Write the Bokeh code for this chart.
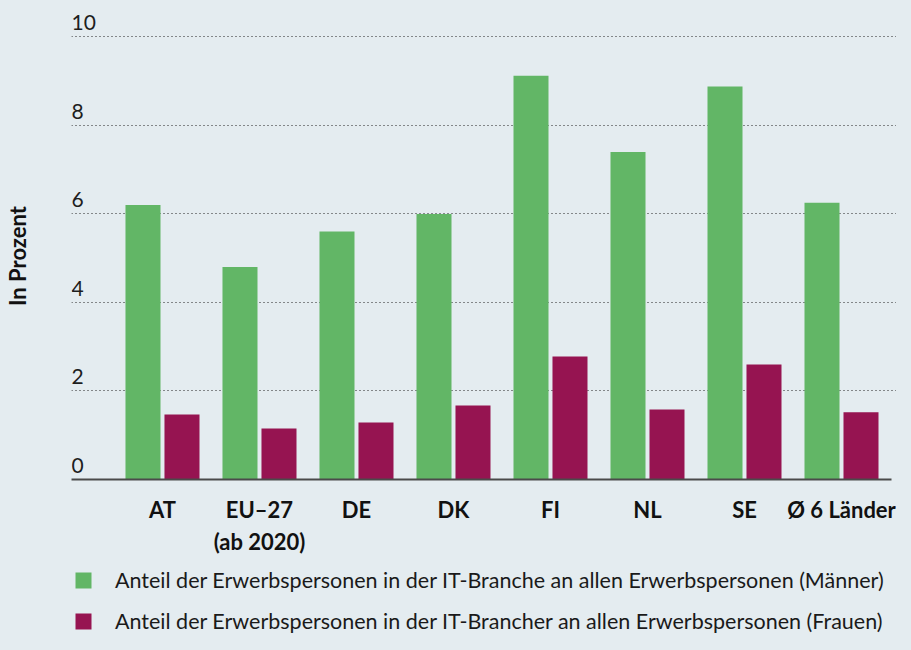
from bokeh.plotting import figure
from bokeh.layouts import column
from bokeh.models import (ColumnDataSource, Range1d, FixedTicker, LinearAxis,
                          Legend, LegendItem, GlobalInlineStyleSheet)
from bokeh.transform import dodge
from bokeh.core.properties import value
from bokeh.embed import file_html
from bokeh.resources import INLINE

# ---- data ----
categories = ["AT", "EU\u201327\n(ab 2020)", "DE", "DK", "FI", "NL", "SE", "\u00d8 6 L\u00e4nder"]
men = [6.2, 4.8, 5.6, 6.0, 9.12, 7.4, 8.88, 6.25]
women = [1.47, 1.15, 1.29, 1.67, 2.78, 1.58, 2.6, 1.52]
y_ticks = [0, 2, 4, 6, 8, 10]
y_tick_labels = ["0", "2", "4", "6", "8", "10"]
label_men = "Anteil der Erwerbspersonen in der IT-Branche an allen Erwerbspersonen (M\u00e4nner)"
label_women = "Anteil der Erwerbspersonen in der IT-Brancher an allen Erwerbspersonen (Frauen)"
y_title = "In Prozent"

BG = "#e4ecf0"
GREEN = "#62b666"
MAGENTA = "#961451"
FONT = "Lato"

idx = list(range(len(categories)))
src = ColumnDataSource(dict(idx=idx, men=men, women=women))

FRAME_H = 479
Y_END = 10.82
PX_PER_UNIT = FRAME_H / Y_END

x_start, x_end = -0.938, 7.567
main = figure(frame_width=825, frame_height=FRAME_H,
              x_range=Range1d(x_start, x_end), y_range=Range1d(0, Y_END),
              output_backend="svg", toolbar_location=None,
              x_axis_location=None, y_axis_location=None,
              min_border_left=70, min_border_right=0, min_border_top=0,
              min_border_bottom=87)
main.background_fill_color = BG
main.border_fill_color = BG
main.outline_line_color = None
main.stylesheets = [GlobalInlineStyleSheet(css="html, body { background-color: %s; }" % BG)]

# grid
main.xgrid.visible = False
main.ygrid.ticker = FixedTicker(ticks=y_ticks[1:])
main.ygrid.grid_line_color = "#222222"
main.ygrid.grid_line_width = 1
main.ygrid.grid_line_dash = "1 3"

# bars
r_men = main.vbar(x=dodge("idx", -0.201, range=main.x_range), top="men", width=0.361,
                  source=src, fill_color=GREEN, line_color=None)
r_women = main.vbar(x=dodge("idx", 0.201, range=main.x_range), top="women", width=0.361,
                    source=src, fill_color=MAGENTA, line_color=None)

# y tick labels sitting above their gridlines
label_y = [t + 7 / PX_PER_UNIT for t in y_ticks]
main.text(x=[x_start] * len(y_ticks), y=label_y, text=y_tick_labels,
          text_font=value(FONT), text_font_size="21px", text_color="#1e1e1e",
          text_align="left", text_baseline="alphabetic", y_offset=-7)

# x axis
xaxis = LinearAxis(ticker=FixedTicker(ticks=idx),
                   major_label_overrides={i: c for i, c in zip(idx, categories)})
xaxis.bounds = (x_start, 7.516)
xaxis.axis_line_color = "#4a4a4a"
xaxis.axis_line_width = 2
xaxis.major_tick_line_color = None
xaxis.minor_tick_line_color = None
xaxis.major_tick_out = 0
xaxis.major_tick_in = 0
xaxis.major_label_standoff = 16
xaxis.major_label_text_font = FONT
xaxis.major_label_text_font_style = "bold"
xaxis.major_label_text_font_size = "22px"
xaxis.major_label_text_color = "#111111"
main.add_layout(xaxis, "below")

# y axis (title only); trailing spaces move the centred title down a little
yaxis = LinearAxis(ticker=FixedTicker(ticks=[]), axis_label=y_title + "\u00a0" * 6)
yaxis.axis_line_color = None
yaxis.major_tick_line_color = None
yaxis.minor_tick_line_color = None
yaxis.major_tick_out = 0
yaxis.major_label_standoff = 0
yaxis.axis_label_standoff = 41
yaxis.axis_label_text_font = FONT
yaxis.axis_label_text_font_style = "bold"
yaxis.axis_label_text_font_size = "22px"
yaxis.axis_label_text_color = "#111111"
main.add_layout(yaxis, "left")

# ---- legend strip ----
leg = figure(width=895, height=68, x_range=Range1d(0, 1), y_range=Range1d(0, 1),
             output_backend="svg", toolbar_location=None,
             x_axis_location=None, y_axis_location=None,
             min_border_left=70, min_border_right=0, min_border_top=0,
             min_border_bottom=0)
leg.background_fill_color = BG
leg.border_fill_color = BG
leg.outline_line_color = None
leg.xgrid.visible = False
leg.ygrid.visible = False
k_men = leg.vbar(x=[0.5], top=[0], width=0.01, fill_color=GREEN, line_color=None)
k_women = leg.vbar(x=[0.5], top=[0], width=0.01, fill_color=MAGENTA, line_color=None)

legend = Legend(items=[LegendItem(label=label_men, renderers=[k_men]),
                       LegendItem(label=label_women, renderers=[k_women])],
                location=(2, 0), orientation="vertical")
legend.margin = 0
legend.padding = 0
legend.spacing = 15
legend.glyph_width = 20
legend.glyph_height = 20
legend.label_height = 20
legend.label_standoff = 22
legend.label_text_font = FONT
legend.label_text_font_size = "21.5px"
legend.label_text_color = "#1a1a1a"
legend.background_fill_alpha = 0
legend.border_line_alpha = 0
leg.add_layout(legend)

p = column(main, leg, spacing=0)

open("out.html", "w").write(file_html(p, INLINE))
